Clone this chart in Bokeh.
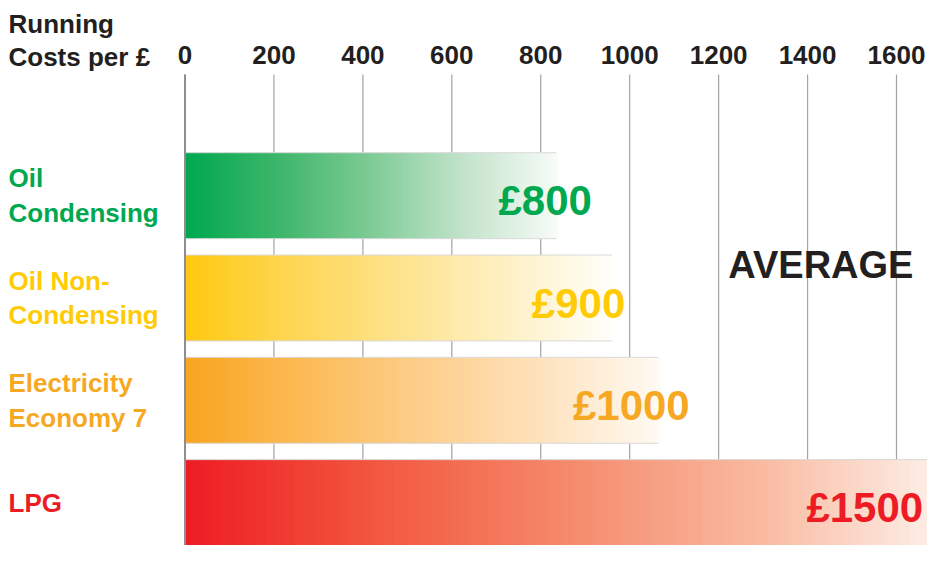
import numpy as np
from bokeh.plotting import figure
from bokeh.models import Range1d, Label, ColumnDataSource
from bokeh.core.properties import value
from bokeh.embed import file_html
from bokeh.resources import INLINE

# ---------------- data ----------------
categories = ["Oil\nCondensing", "Oil Non-\nCondensing", "Electricity\nEconomy 7", "LPG"]
costs = [800, 900, 1000, 1500]
cost_labels = ["£800", "£900", "£1000", "£1500"]
bar_extent = [835, 960, 1065, 1705]          # visible (faded) length of each bar
tick_values = [0, 200, 400, 600, 800, 1000, 1200, 1400, 1600]
tick_labels = ["0", "200", "400", "600", "800", "1000", "1200", "1400", "1600"]
text_colors = ["#00a84f", "#ffcb05", "#f7a823", "#ed1c24"]
axis_title = "Running\nCosts per £"
note_text = "AVERAGE"

# gradient colour stops (style) for each bar, at 0, 1/4, 1/2, 3/4, 1 of its length
gradient_stops = [
    ["#00a84f", "#3db66a", "#7ecb95", "#c2e3cb", "#f7fbf7"],
    ["#fec90f", "#fed655", "#fde38c", "#fef0c4", "#fffefa"],
    ["#f9a51f", "#fcbb57", "#fdce8b", "#fee2bd", "#fffaf3"],
    ["#ed1c24", "#f2573e", "#f5896b", "#f9b89e", "#fdf1ea"],
]

# ---------------- layout (pixels -> data) ----------------
W, H = 927, 545
x0_px, x1600_px = 184.5, 896.0
k = (x1600_px - x0_px) / 1600.0
x_start = -x0_px / k
x_end = x_start + W / k
first_px = 195.2
row_px = 102.3

def yd(px):
    return (px - first_px) / row_px

y_top = yd(0)
y_bottom = yd(H)
grid_top = yd(74)
tick_base = yd(54)

FONT = value("Liberation Sans")
DARK = "#231f20"

p = figure(width=W, height=H, output_backend="svg", toolbar_location=None,
           x_range=Range1d(x_start, x_end), y_range=Range1d(y_bottom, y_top),
           x_axis_location=None, y_axis_location=None, min_border=0)
p.outline_line_color = None
p.background_fill_color = "white"
p.border_fill_color = "white"
p.xgrid.visible = False
p.ygrid.visible = False

# ---------------- grid lines (behind bars) ----------------
n_t = len(tick_values)
p.segment(x0=tick_values, x1=tick_values, y0=[grid_top] * n_t, y1=[y_bottom] * n_t,
          line_color="#a3a3a8", line_width=1.2)

# ---------------- gradient bars ----------------
def hex2rgb(c):
    return np.array([int(c[j:j + 2], 16) for j in (1, 3, 5)], dtype=float)

N = 160
half = 0.42
L, R, B, T, C = [], [], [], [], []
stop_pos = np.linspace(0, 1, 5)
for i, (ext, stops) in enumerate(zip(bar_extent, gradient_stops)):
    rgbs = np.array([hex2rgb(s) for s in stops])
    edges = np.linspace(0, ext, N + 1)
    step = ext / N
    for j in range(N):
        f = (j + 0.5) / N
        col = [np.interp(f, stop_pos, rgbs[:, ch]) for ch in range(3)]
        L.append(edges[j])
        R.append(edges[j + 1] + step * 0.6)
        B.append(i + half)
        T.append(i - half)
        C.append("#%02x%02x%02x" % tuple(int(round(v)) for v in col))
src = ColumnDataSource(dict(left=L, right=R, bottom=B, top=T, color=C))
p.quad(left="left", right="right", bottom="bottom", top="top", fill_color="color",
       line_color=None, source=src)

idx = np.arange(len(categories))
p.segment(x0=[0] * len(idx), x1=bar_extent, y0=idx - half, y1=idx - half,
          line_color="#d9d9d9", line_width=1)
p.segment(x0=[0] * len(idx), x1=bar_extent, y0=idx + half, y1=idx + half,
          line_color="#d9d9d9", line_width=1)

# zero line
p.segment(x0=[0], x1=[0], y0=[grid_top], y1=[y_bottom], line_color="#8d8d92", line_width=2)

# ---------------- texts ----------------
# axis tick labels (top)
p.text(x=tick_values, y=[tick_base] * n_t, text=tick_labels, text_color=DARK,
       text_font=FONT, text_font_style="bold", text_font_size="26px",
       text_align="center", text_baseline="alphabetic")

# axis title
p.text(x=[x_start], y=[yd(8)], text=[axis_title], text_color=DARK,
       text_font=FONT, text_font_style="bold", text_font_size="26px",
       text_align="left", text_baseline="top", text_line_height=1.12, x_offset=8)

# category labels
p.text(x=[x_start] * len(idx), y=idx, text=categories, text_color=text_colors,
       text_font=FONT, text_font_style="bold", text_font_size="26px",
       text_align="left", text_baseline="middle", text_line_height=1.15, x_offset=8)

# value labels
label_x = [915, 990, 1135, 1660]
p.text(x=label_x, y=idx, text=cost_labels, text_color=text_colors,
       text_font=FONT, text_font_style="bold", text_font_size="42px",
       text_align="right", text_baseline="middle", y_offset=5)

p.add_layout(Label(x=1430, y=0.68, text=note_text, text_align="center",
                   text_baseline="middle", text_font="Liberation Sans",
                   text_font_style="bold", text_font_size="38px", text_color=DARK))

open("out.html", "w").write(file_html(p, INLINE))
